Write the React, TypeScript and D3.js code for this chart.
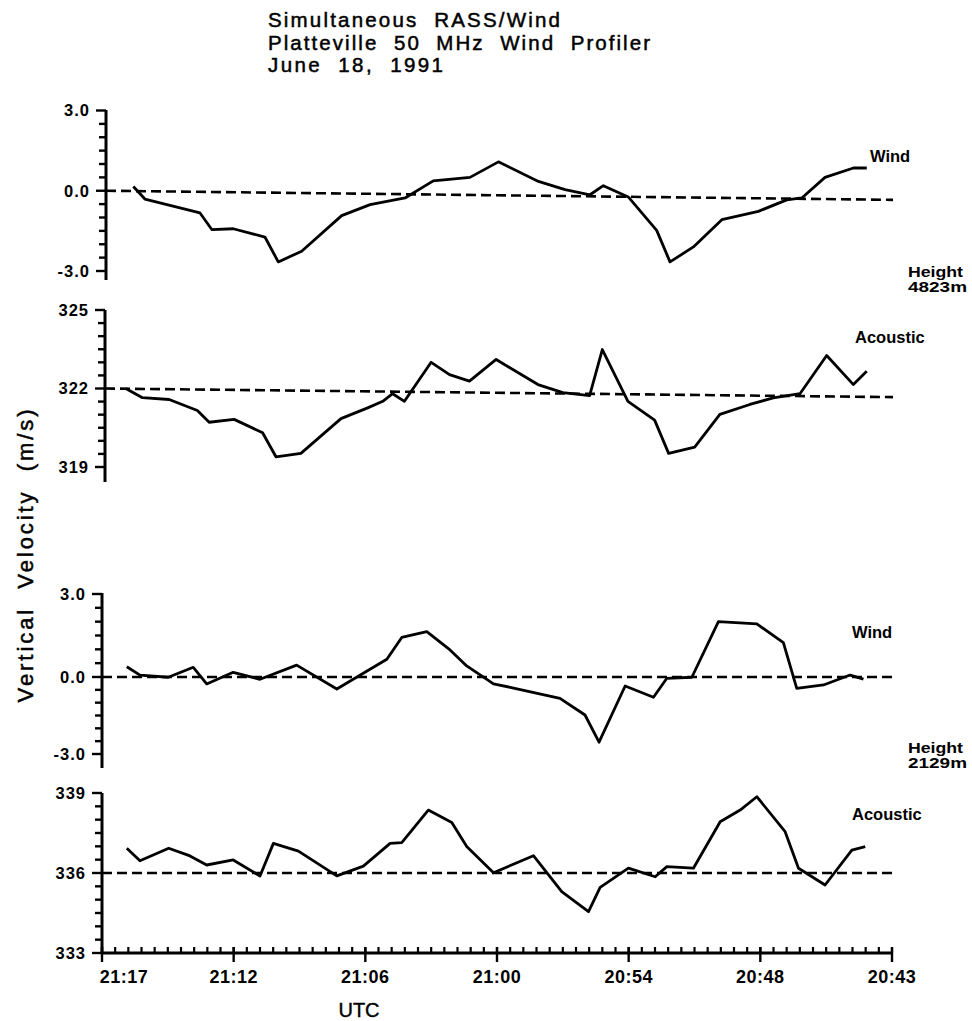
import React from "react";
import * as d3 from "d3";

// Time in decimal minutes after 20:00 UTC (time decreases to the right)
const timeDomain = [78, 42];
const xTickTimes = [78, 72, 66, 60, 54, 48, 42];
const xLabelTimes = [77, 72, 66, 60, 54, 48, 42];
const xTickLabels = ["21:17", "21:12", "21:06", "21:00", "20:54", "20:48", "20:43"];

// Height 4823 m – wind
const windUpperTime = [76.75, 76.22, 73.7, 73.16, 72.18, 70.73, 70.12, 69.05, 67.22, 65.92, 64.32, 63.03, 61.35, 60.05, 58.22, 57.0, 55.86, 55.25, 54.11, 52.81, 52.2, 51.13, 49.83, 48.16, 46.86, 46.17, 45.11, 43.81, 43.2];
const windUpperVel = [0.16, -0.31, -0.83, -1.45, -1.42, -1.73, -2.66, -2.26, -0.93, -0.52, -0.27, 0.37, 0.5, 1.08, 0.35, 0.04, -0.15, 0.19, -0.23, -1.48, -2.66, -2.1, -1.08, -0.77, -0.34, -0.27, 0.5, 0.85, 0.85];
const windUpperRef = [0.0, -0.34];

// Height 4823 m – acoustic
const acousticUpperTime = [77.05, 76.29, 75.07, 73.78, 73.24, 72.1, 70.8, 70.19, 69.05, 67.22, 66.0, 65.31, 64.86, 64.32, 63.1, 62.26, 61.35, 60.13, 58.22, 57.08, 55.86, 55.28, 54.11, 52.89, 52.25, 51.06, 49.91, 48.54, 47.47, 46.25, 45.03, 43.81, 43.2];
const acousticUpperVel = [322.0, 321.65, 321.58, 321.16, 320.71, 320.82, 320.31, 319.39, 319.52, 320.85, 321.26, 321.51, 321.8, 321.51, 323.0, 322.53, 322.28, 323.11, 322.15, 321.84, 321.73, 323.49, 321.51, 320.79, 319.52, 319.76, 321.01, 321.39, 321.64, 321.8, 323.26, 322.15, 322.66];
const acousticUpperRef = [322.0, 321.67];

// Height 2129 m – wind
const windLowerTime = [76.87, 76.27, 74.98, 73.84, 73.23, 72.02, 70.8, 69.13, 67.3, 65.02, 64.34, 63.2, 62.14, 61.38, 60.16, 59.4, 57.13, 55.99, 55.35, 54.16, 52.87, 52.26, 51.12, 49.91, 48.16, 46.95, 46.34, 45.12, 43.91, 43.3];
const windLowerVel = [0.37, 0.07, -0.01, 0.35, -0.27, 0.17, -0.09, 0.43, -0.47, 0.64, 1.43, 1.64, 0.98, 0.4, -0.27, -0.4, -0.83, -1.48, -2.54, -0.35, -0.79, -0.05, -0.01, 2.0, 1.92, 1.24, -0.44, -0.31, 0.07, -0.08];
const windLowerRef = [0.0, 0.0];

// Height 2129 m – acoustic
const acousticLowerTime = [76.87, 76.27, 74.96, 73.99, 73.23, 72.02, 70.8, 70.19, 69.05, 67.3, 66.09, 64.87, 64.34, 63.13, 62.06, 61.38, 60.16, 58.34, 57.05, 55.83, 55.3, 54.01, 52.79, 52.26, 51.05, 49.83, 48.92, 48.16, 46.87, 46.26, 45.05, 43.83, 43.22];
const acousticLowerVel = [336.93, 336.46, 336.93, 336.64, 336.3, 336.49, 335.89, 337.11, 336.82, 335.89, 336.26, 337.11, 337.14, 338.36, 337.89, 336.99, 336.01, 336.65, 335.3, 334.55, 335.46, 336.18, 335.86, 336.24, 336.18, 337.92, 338.36, 338.86, 337.55, 336.18, 335.55, 336.86, 336.99];
const acousticLowerRef = [336.0, 336.0];

const windTickValues = [3, 0, -3];
const acousticUpperTickValues = [325, 322, 319];
const acousticLowerTickValues = [339, 336, 333];

const titleLines = ["Simultaneous  RASS/Wind", "Platteville  50  MHz  Wind  Profiler", "June  18,  1991"];
const heightLabels = [["Height", "4823m"], ["Height", "2129m"]];

type Panel = {
  times: number[];
  values: number[];
  ref: number[];
  yDomain: number[];
  yRange: number[];
  xRange: number[];
  axisTop: number;
  axisBottom: number;
  tickValues: number[];
  fmt: (v: number) => string;
  name: string;
  nameX: number;
  nameY: number;
};

const fmt1 = (v: number) => v.toFixed(1);
const fmt0 = (v: number) => v.toFixed(0);

const panels: Panel[] = [
  { times: windUpperTime, values: windUpperVel, ref: windUpperRef, yDomain: [-3, 3], yRange: [271, 110.5], xRange: [106, 893], axisTop: 110, axisBottom: 280, tickValues: windTickValues, fmt: fmt1, name: "Wind", nameX: 870, nameY: 162 },
  { times: acousticUpperTime, values: acousticUpperVel, ref: acousticUpperRef, yDomain: [319, 325], yRange: [467, 310], xRange: [105, 893], axisTop: 310, axisBottom: 482, tickValues: acousticUpperTickValues, fmt: fmt0, name: "Acoustic", nameX: 855, nameY: 343 },
  { times: windLowerTime, values: windLowerVel, ref: windLowerRef, yDomain: [-3, 0, 3], yRange: [754, 677, 594], xRange: [102, 892], axisTop: 593, axisBottom: 768, tickValues: windTickValues, fmt: fmt1, name: "Wind", nameX: 852, nameY: 638 },
  { times: acousticLowerTime, values: acousticLowerVel, ref: acousticLowerRef, yDomain: [333, 339], yRange: [953, 793], xRange: [102, 892], axisTop: 793, axisBottom: 953, tickValues: acousticLowerTickValues, fmt: fmt0, name: "Acoustic", nameX: 852, nameY: 820 },
];

const FONT = "'Liberation Sans', Arial, Helvetica, sans-serif";

function PanelView({ p }: { p: Panel }) {
  const x = d3.scaleLinear().domain(timeDomain).range(p.xRange);
  const y = d3.scaleLinear().domain(p.yDomain).range(p.yRange);
  const ax = p.xRange[0];
  const lo = d3.min(p.yDomain) as number;
  const hi = d3.max(p.yDomain) as number;
  const minor = d3.range(0, Math.round((hi - lo) / 0.5) + 1).map((i) => lo + i * 0.5);
  const line = d3
    .line<number>()
    .x((_, i) => x(p.times[i]))
    .y((v) => y(v));
  const refLine = d3
    .line<number>()
    .x((_, i) => x(timeDomain[i]))
    .y((v) => y(v));
  return (
    <g>
      <line x1={ax} x2={ax} y1={p.axisTop} y2={p.axisBottom} stroke="#000" strokeWidth={3} />
      {minor.map((v) => {
        const major = p.tickValues.includes(v);
        return (
          <line key={v} x1={ax - (major ? 10 : 7)} x2={ax} y1={y(v)} y2={y(v)} stroke="#000" strokeWidth={2.4} />
        );
      })}
      {p.tickValues.map((v) => (
        <text
          key={"l" + v}
          x={ax - 16}
          y={y(v)}
          dy="0.36em"
          textAnchor="end"
          fontFamily={FONT}
          fontWeight="bold"
          fontSize={16.5}
          letterSpacing={1}
        >
          {p.fmt(v)}
        </text>
      ))}
      <path d={refLine(p.ref) || ""} fill="none" stroke="#000" strokeWidth={2.6} strokeDasharray="10,5" />
      <path d={line(p.values) || ""} fill="none" stroke="#000" strokeWidth={2.8} strokeLinejoin="round" />
      <text x={p.nameX} y={p.nameY} fontFamily={FONT} fontWeight="bold" fontSize={16.5}>
        {p.name}
      </text>
    </g>
  );
}

export default function App() {
  const xBottom = d3.scaleLinear().domain(timeDomain).range([102, 892]);
  const minorTimes = d3.range(0, 61).map((i) => 78 - i * 0.6);
  const axisY = 953;
  return (
    <svg width={972} height={1021} style={{ position: "absolute", left: 0, top: 0, background: "#fff" }}>
      <rect width={972} height={1021} fill="#fff" />
      {titleLines.map((t, i) => (
        <text
          key={t}
          x={268}
          y={27 + i * 22.5}
          fontFamily={FONT}
          fontSize={20.5}
          stroke="#000"
          strokeWidth={0.5}
          style={{ whiteSpace: "pre" }}
          textLength={[292, 382, 175][i]}
          lengthAdjust="spacing"
        >
          {t}
        </text>
      ))}
      {panels.map((p, i) => (
        <PanelView key={i} p={p} />
      ))}
      {/* bottom time axis */}
      <line x1={102} x2={892} y1={axisY} y2={axisY} stroke="#000" strokeWidth={3} />
      {minorTimes.map((t, i) => (
        <line key={i} x1={xBottom(t)} x2={xBottom(t)} y1={axisY - 6} y2={axisY} stroke="#000" strokeWidth={2.2} />
      ))}
      {xTickTimes.map((t) => (
        <line key={"M" + t} x1={xBottom(t)} x2={xBottom(t)} y1={axisY - 6} y2={axisY + 9} stroke="#000" strokeWidth={2.4} />
      ))}
      {xTickLabels.map((s, i) => (
        <text
          key={s}
          x={xBottom(xLabelTimes[i])}
          y={983}
          textAnchor="middle"
          fontFamily={FONT}
          fontWeight="bold"
          fontSize={18}
          letterSpacing={0.5}
        >
          {s}
        </text>
      ))}
      <text x={359} y={1017} textAnchor="middle" fontFamily={FONT} fontSize={20} stroke="#000" strokeWidth={0.4}>
        UTC
      </text>
      <text
        transform="translate(33,556) rotate(-90)"
        textAnchor="middle"
        fontFamily={FONT}
        fontSize={22}
        stroke="#000"
        strokeWidth={0.5}
        style={{ whiteSpace: "pre" }}
        textLength={293}
        lengthAdjust="spacing"
      >
        {"Vertical  Velocity  (m/s)"}
      </text>
      {heightLabels.map((lines, k) =>
        lines.map((s, j) => (
          <text
            key={k + s}
            x={908}
            y={[277, 753][k] + j * 14.5}
            fontFamily={FONT}
            fontWeight="bold"
            fontSize={14}
            textLength={j === 0 ? 55 : 59}
            lengthAdjust="spacingAndGlyphs"
          >
            {s}
          </text>
        ))
      )}
    </svg>
  );
}
